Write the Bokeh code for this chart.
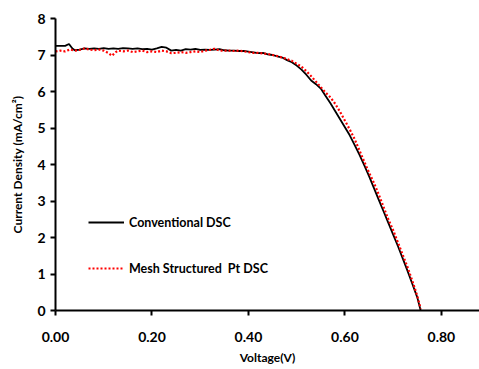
from bokeh.plotting import figure
from bokeh.models import Legend, LegendItem, FixedTicker, Range1d
from bokeh.embed import file_html
from bokeh.resources import INLINE

# Conventional DSC (Voltage V, Current density mA/cm2)
conv_v = [0.000, 0.010, 0.020, 0.028, 0.035, 0.040, 0.050, 0.060, 0.070, 0.080, 0.090, 0.100,
          0.110, 0.120, 0.130, 0.140, 0.150, 0.160, 0.170, 0.180, 0.190, 0.200, 0.210, 0.220,
          0.230, 0.240, 0.250, 0.260, 0.270, 0.280, 0.290, 0.300, 0.310, 0.320, 0.330, 0.340,
          0.350, 0.360, 0.370, 0.380, 0.390, 0.400, 0.410, 0.420, 0.430, 0.440, 0.450, 0.460,
          0.470, 0.480, 0.490, 0.500, 0.510, 0.520, 0.530, 0.540, 0.550, 0.560, 0.570, 0.580,
          0.590, 0.600, 0.610, 0.620, 0.630, 0.640, 0.650, 0.660, 0.670, 0.680, 0.690, 0.700,
          0.710, 0.720, 0.730, 0.740, 0.750, 0.757]
conv_j = [7.25, 7.25, 7.25, 7.30, 7.18, 7.13, 7.15, 7.18, 7.17, 7.18, 7.17, 7.19,
          7.17, 7.18, 7.17, 7.19, 7.18, 7.17, 7.18, 7.16, 7.17, 7.15, 7.18, 7.22,
          7.20, 7.12, 7.14, 7.12, 7.16, 7.15, 7.17, 7.14, 7.15, 7.14, 7.15, 7.16,
          7.13, 7.12, 7.12, 7.11, 7.11, 7.09, 7.07, 7.05, 7.06, 7.02, 7.00, 6.96,
          6.93, 6.86, 6.80, 6.71, 6.60, 6.46, 6.30, 6.20, 6.08, 5.88, 5.68, 5.46,
          5.24, 5.02, 4.80, 4.54, 4.27, 3.98, 3.68, 3.36, 3.04, 2.72, 2.40, 2.08,
          1.76, 1.42, 1.08, 0.72, 0.36, 0.00]

# Mesh Structured Pt DSC
mesh_v = [0.000, 0.010, 0.020, 0.030, 0.040, 0.050, 0.060, 0.070, 0.080, 0.090, 0.100, 0.110,
          0.117, 0.125, 0.130, 0.140, 0.150, 0.160, 0.170, 0.180, 0.190, 0.200, 0.210, 0.220,
          0.230, 0.240, 0.250, 0.260, 0.270, 0.280, 0.290, 0.300, 0.310, 0.320, 0.330, 0.340,
          0.350, 0.360, 0.370, 0.380, 0.390, 0.400, 0.410, 0.420, 0.430, 0.440, 0.450, 0.460,
          0.470, 0.480, 0.490, 0.500, 0.510, 0.520, 0.530, 0.540, 0.550, 0.560, 0.570, 0.580,
          0.590, 0.600, 0.610, 0.620, 0.630, 0.640, 0.650, 0.660, 0.670, 0.680, 0.690, 0.700,
          0.710, 0.720, 0.730, 0.740, 0.750, 0.757]
mesh_j = [7.10, 7.12, 7.10, 7.15, 7.12, 7.14, 7.18, 7.15, 7.13, 7.15, 7.12, 7.05,
          6.98, 7.08, 7.12, 7.10, 7.12, 7.08, 7.10, 7.12, 7.08, 7.10, 7.08, 7.12,
          7.10, 7.05, 7.06, 7.08, 7.06, 7.08, 7.10, 7.08, 7.12, 7.14, 7.17, 7.12,
          7.12, 7.12, 7.11, 7.12, 7.10, 7.08, 7.06, 7.06, 7.04, 7.03, 7.00, 6.97,
          6.93, 6.89, 6.84, 6.76, 6.68, 6.56, 6.42, 6.27, 6.12, 5.97, 5.84, 5.66,
          5.44, 5.20, 4.96, 4.70, 4.39, 4.08, 3.78, 3.50, 3.18, 2.84, 2.50, 2.20,
          1.86, 1.52, 1.18, 0.80, 0.40, 0.05]

x_ticks = [0.0, 0.2, 0.4, 0.6, 0.8]
x_tick_labels = ["0.00", "0.20", "0.40", "0.60", "0.80"]
y_ticks = [0, 1, 2, 3, 4, 5, 6, 7, 8]

FONT = "Lato"

p = figure(width=479, height=369, output_backend="svg", toolbar_location=None,
           x_range=Range1d(0, 0.879), y_range=Range1d(0, 8),
           min_border_left=55, min_border_right=0, min_border_top=18, min_border_bottom=59)
p.outline_line_color = None
p.xgrid.visible = False
p.ygrid.visible = False

l1 = p.line(conv_v, conv_j, line_color="black", line_width=1.8)
l2 = p.line(mesh_v, mesh_j, line_color="#ff0000", line_width=2.2, line_dash="2 2")

for ax in (p.xaxis[0], p.yaxis[0]):
    ax.axis_line_width = 2
    ax.axis_line_color = "black"
    ax.major_tick_line_width = 2
    ax.major_tick_line_color = "black"
    ax.major_tick_in = 0
    ax.major_tick_out = 5
    ax.minor_tick_line_color = None
    ax.major_label_text_font = FONT
    ax.major_label_text_font_style = "bold"
    ax.major_label_text_font_size = "14px"
    ax.major_label_text_color = "black"
    ax.axis_label_text_font = FONT
    ax.axis_label_text_font_style = "bold"
    ax.axis_label_text_font_size = "12px"
    ax.axis_label_text_color = "black"

p.xaxis[0].ticker = FixedTicker(ticks=x_ticks)
p.xaxis[0].major_label_overrides = {t: s for t, s in zip(x_ticks, x_tick_labels)}
p.xaxis[0].major_label_standoff = 16
p.xaxis[0].axis_label = "Voltage(V)"
p.xaxis[0].axis_label_standoff = 5

p.yaxis[0].ticker = FixedTicker(ticks=y_ticks)
p.yaxis[0].major_label_standoff = 5
p.yaxis[0].axis_label = "Current Density (mA/cm\u00b2)"
p.yaxis[0].axis_label_standoff = 9

legend = Legend(items=[LegendItem(label="Conventional DSC", renderers=[l1]),
                       LegendItem(label="Mesh Structured  Pt DSC", renderers=[l2])],
                location=(33, 32), orientation="vertical",
                glyph_width=36, glyph_height=20, label_height=20, spacing=26,
                padding=0, margin=0, label_standoff=5,
                border_line_color=None, background_fill_alpha=0,
                label_text_font=FONT, label_text_font_style="bold",
                label_text_font_size="12.5px", label_text_color="black")
p.add_layout(legend, "center")

open("out.html", "w").write(file_html(p, INLINE))
